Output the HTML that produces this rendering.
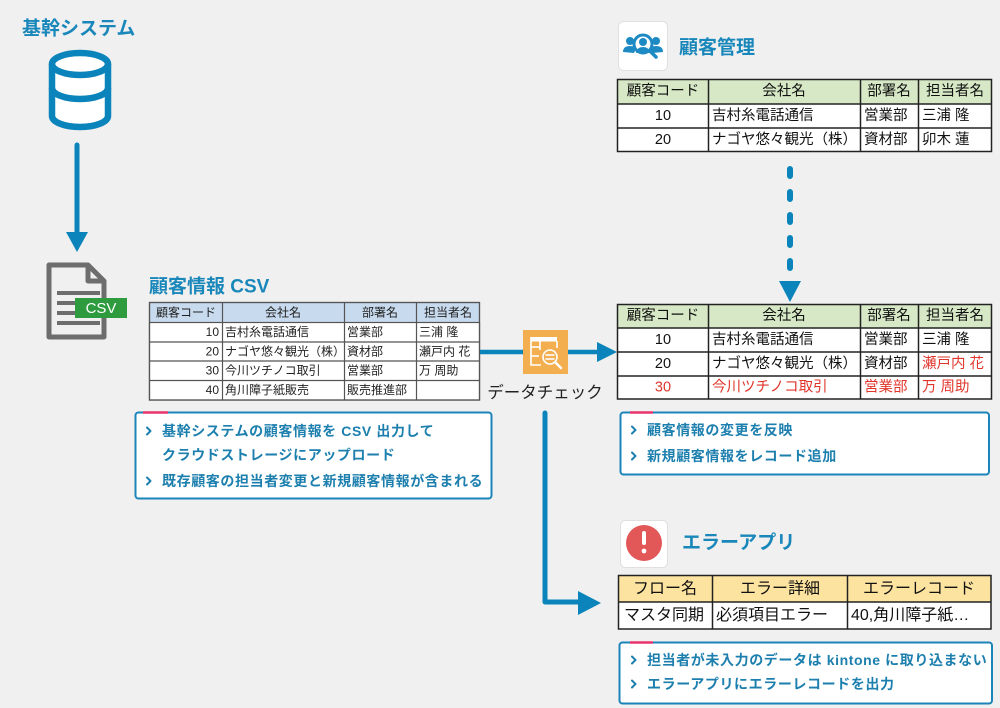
<!DOCTYPE html>
<html><head><meta charset="utf-8"><style>
html,body{margin:0;padding:0;background:#f0f0f0;}
svg{display:block;font-family:"Liberation Sans","Noto Sans CJK JP",sans-serif;}
.t{font-weight:bold;fill:#1a87ba;font-size:19px;}
.n{font-weight:bold;fill:#1c7fae;font-size:14px;letter-spacing:0.6px;}
.c{fill:none;stroke:#1c7fae;stroke-width:2;stroke-linecap:round;stroke-linejoin:round;}
.s{font-size:12px;fill:#222;}
.m{font-size:14.5px;fill:#111;}
.e{font-size:16px;fill:#111;}
.r{fill:#e0352b;}
</style></head><body>
<svg width="1000" height="708" viewBox="0 0 1000 708" xmlns="http://www.w3.org/2000/svg">
<rect width="1000" height="708" fill="#f0f0f0"/>

<!-- 基幹システム -->
<text class="t" x="22" y="29" dominant-baseline="central">基幹システム</text>
<g fill="#fff" stroke="#0a84bb" stroke-width="6.5">
  <path d="M52,64 V116 A28,11 0 0 0 108,116 V64"/>
  <ellipse cx="80" cy="64" rx="28" ry="11"/>
  <path d="M52,88 A28,11 0 0 0 108,88" fill="none"/>
</g>
<line x1="77" y1="145" x2="77" y2="236" stroke="#0a84bb" stroke-width="5" stroke-linecap="round"/>
<polygon points="66,232 88,232 77,252" fill="#0a84bb"/>

<!-- file icon -->
<g fill="none" stroke="#6d6d6d" stroke-width="5" stroke-linejoin="round">
  <path d="M49,265 H88 L104,281 V337 H49 Z" fill="#f0f0f0"/>
  <path d="M88,265 V281 H104"/>
</g>
<g stroke="#6d6d6d" stroke-width="4">
  <line x1="57" y1="293" x2="100" y2="293"/>
  <line x1="57" y1="303" x2="76" y2="303"/>
  <line x1="57" y1="313" x2="76" y2="313"/>
  <line x1="57" y1="323" x2="100" y2="323"/>
</g>
<rect x="75" y="298" width="52" height="20" fill="#2e9b3f"/>
<text x="101" y="308.5" font-size="15" fill="#fff" text-anchor="middle" dominant-baseline="central">CSV</text>

<!-- 顧客情報 CSV -->
<text class="t" x="149" y="287" dominant-baseline="central">顧客情報 CSV</text>
<rect x="149.5" y="302.5" width="330" height="20" fill="#c8daee"/>
<rect x="149.5" y="302.5" width="330" height="97.5" fill="none" stroke="#555" stroke-width="1.2"/>
<rect x="149.5" y="322.5" width="330" height="77.5" fill="#fff" stroke="#555" stroke-width="1.2"/>
<g stroke="#555" stroke-width="1.2">
  <line x1="222.5" y1="302.5" x2="222.5" y2="400"/>
  <line x1="344.5" y1="302.5" x2="344.5" y2="400"/>
  <line x1="416.5" y1="302.5" x2="416.5" y2="400"/>
  <line x1="149.5" y1="342" x2="479.5" y2="342"/>
  <line x1="149.5" y1="361" x2="479.5" y2="361"/>
  <line x1="149.5" y1="380.5" x2="479.5" y2="380.5"/>
</g>
<rect x="149.5" y="302.5" width="330" height="97.5" fill="none" stroke="#555" stroke-width="1.2"/>
<g class="s" dominant-baseline="central">
  <text x="186" y="312.5" text-anchor="middle">顧客コード</text>
  <text x="283" y="312.5" text-anchor="middle">会社名</text>
  <text x="380" y="312.5" text-anchor="middle">部署名</text>
  <text x="448" y="312.5" text-anchor="middle">担当者名</text>
  <text x="219" y="332" text-anchor="end">10</text>
  <text x="225" y="332">吉村糸電話通信</text>
  <text x="347" y="332">営業部</text>
  <text x="419" y="332">三浦 隆</text>
  <text x="219" y="351.5" text-anchor="end">20</text>
  <text x="225" y="351.5">ナゴヤ悠々観光（株）</text>
  <text x="347" y="351.5">資材部</text>
  <text x="419" y="351.5">瀬戸内 花</text>
  <text x="219" y="370.5" text-anchor="end">30</text>
  <text x="225" y="370.5">今川ツチノコ取引</text>
  <text x="347" y="370.5">営業部</text>
  <text x="419" y="370.5">万 周助</text>
  <text x="219" y="390" text-anchor="end">40</text>
  <text x="225" y="390">角川障子紙販売</text>
  <text x="347" y="390">販売推進部</text>
</g>

<!-- connectors -->
<line x1="480" y1="352" x2="523" y2="352" stroke="#0a84bb" stroke-width="4.5"/>
<line x1="568" y1="352" x2="600" y2="352" stroke="#0a84bb" stroke-width="4.5"/>
<polygon points="597,342 617,352 597,362" fill="#0a84bb"/>
<rect x="523" y="330" width="45" height="44" fill="#f2ae4f"/>
<g stroke="#fff" stroke-width="1.6" fill="none">
  <rect x="531" y="337" width="26" height="4.5" fill="#fff" stroke="none"/>
  <path d="M531,337 V365 H541"/>
  <line x1="531" y1="347" x2="540" y2="347"/>
  <line x1="531" y1="356" x2="539" y2="356"/>
  <line x1="540" y1="341" x2="540" y2="350"/>
  <line x1="557" y1="341" x2="557" y2="348"/>
  <circle cx="550" cy="357" r="7"/>
  <line x1="545.5" y1="355" x2="554.5" y2="355"/>
  <line x1="545.5" y1="359" x2="554.5" y2="359"/>
  <line x1="555" y1="362" x2="561" y2="368" stroke-width="2.4" stroke-linecap="round"/>
</g>
<text x="545" y="393" font-size="16.5" fill="#222" text-anchor="middle" dominant-baseline="central">データチェック</text>
<path d="M545,413 V602 H582" fill="none" stroke="#0a84bb" stroke-width="5" stroke-linecap="round" stroke-linejoin="round"/>
<polygon points="578,591 601,603 578,615" fill="#0a84bb"/>

<!-- note 1 -->
<rect x="135.5" y="412.5" width="356" height="86" rx="3" fill="#fff" stroke="#1b84b8" stroke-width="2"/>
<line x1="143" y1="412.5" x2="168" y2="412.5" stroke="#e8336d" stroke-width="2.5"/>
<path class="c" d="M147,427.5 L150.5,431 L147,434.5"/>
<path class="c" d="M147,477.5 L150.5,481 L147,484.5"/>
<g class="n" dominant-baseline="central">
  <text x="162" y="431">基幹システムの顧客情報を CSV 出力して</text>
  <text x="162" y="455">クラウドストレージにアップロード</text>
  <text x="162" y="481">既存顧客の担当者変更と新規顧客情報が含まれる</text>
</g>

<!-- 顧客管理 -->
<rect x="618.5" y="21.5" width="49" height="49" rx="5" fill="#fff" stroke="#e0e0e0"/>
<g fill="#1d8ac4">
  <circle cx="630" cy="41" r="4"/>
  <path d="M623,52 Q623,46 630,46 Q635,46 636,49 L634,53 Z"/>
  <circle cx="656" cy="41" r="4"/>
  <path d="M663,52 Q663,46 656,46 Q651,46 650,49 L652,53 Z"/>
  <circle cx="643" cy="42" r="4"/>
  <path d="M636,53 Q637,47 643,47 Q649,47 650,53 Z"/>
</g>
<circle cx="643" cy="44" r="9" fill="none" stroke="#1d8ac4" stroke-width="3"/>
<line x1="650" y1="51" x2="656" y2="57" stroke="#1d8ac4" stroke-width="3.5" stroke-linecap="round"/>
<text class="t" x="679" y="48" font-size="19.5" dominant-baseline="central">顧客管理</text>

<!-- table 3 -->
<rect x="617.5" y="79.5" width="374" height="72" fill="#fff"/>
<rect x="617.5" y="79.5" width="374" height="24.5" fill="#d6e8c5"/>
<g stroke="#222" stroke-width="1.5" fill="none">
  <rect x="617.5" y="79.5" width="374" height="72"/>
  <line x1="617.5" y1="104" x2="991.5" y2="104"/>
  <line x1="617.5" y1="128" x2="991.5" y2="128"/>
  <line x1="708.5" y1="79.5" x2="708.5" y2="151.5"/>
  <line x1="860.5" y1="79.5" x2="860.5" y2="151.5"/>
  <line x1="918.5" y1="79.5" x2="918.5" y2="151.5"/>
</g>
<g class="m" dominant-baseline="central">
  <text x="663" y="91.5" text-anchor="middle">顧客コード</text>
  <text x="784" y="91.5" text-anchor="middle">会社名</text>
  <text x="889" y="91.5" text-anchor="middle">部署名</text>
  <text x="955" y="91.5" text-anchor="middle">担当者名</text>
  <text x="663" y="116" text-anchor="middle">10</text>
  <text x="712" y="116">吉村糸電話通信</text>
  <text x="864" y="116">営業部</text>
  <text x="922" y="116">三浦 隆</text>
  <text x="663" y="140" text-anchor="middle">20</text>
  <text x="712" y="140">ナゴヤ悠々観光（株）</text>
  <text x="864" y="140">資材部</text>
  <text x="922" y="140">卯木 蓮</text>
</g>

<!-- dashed arrow -->
<line x1="790" y1="169" x2="790" y2="270" stroke="#0a84bb" stroke-width="6" stroke-dasharray="7 16" stroke-linecap="round"/>
<polygon points="779,281 801,281 790,302" fill="#0a84bb"/>

<!-- table 4 -->
<rect x="617.5" y="304.5" width="374" height="94.5" fill="#fff"/>
<rect x="617.5" y="304.5" width="374" height="23.5" fill="#d6e8c5"/>
<g stroke="#222" stroke-width="1.5" fill="none">
  <rect x="617.5" y="304.5" width="374" height="94.5"/>
  <line x1="617.5" y1="328" x2="991.5" y2="328"/>
  <line x1="617.5" y1="352" x2="991.5" y2="352"/>
  <line x1="617.5" y1="376" x2="991.5" y2="376"/>
  <line x1="708.5" y1="304.5" x2="708.5" y2="399"/>
  <line x1="860.5" y1="304.5" x2="860.5" y2="399"/>
  <line x1="918.5" y1="304.5" x2="918.5" y2="399"/>
</g>
<g class="m" dominant-baseline="central">
  <text x="663" y="316" text-anchor="middle">顧客コード</text>
  <text x="784" y="316" text-anchor="middle">会社名</text>
  <text x="889" y="316" text-anchor="middle">部署名</text>
  <text x="955" y="316" text-anchor="middle">担当者名</text>
  <text x="663" y="340" text-anchor="middle">10</text>
  <text x="712" y="340">吉村糸電話通信</text>
  <text x="864" y="340">営業部</text>
  <text x="922" y="340">三浦 隆</text>
  <text x="663" y="364" text-anchor="middle">20</text>
  <text x="712" y="364">ナゴヤ悠々観光（株）</text>
  <text x="864" y="364">資材部</text>
  <text x="922" y="364" class="r">瀬戸内 花</text>
  <text x="663" y="387.5" text-anchor="middle" class="r">30</text>
  <text x="712" y="387.5" class="r">今川ツチノコ取引</text>
  <text x="864" y="387.5" class="r">営業部</text>
  <text x="922" y="387.5" class="r">万 周助</text>
</g>

<!-- note 2 -->
<rect x="620.5" y="412.5" width="368.5" height="62" rx="3" fill="#fff" stroke="#1b84b8" stroke-width="2"/>
<line x1="630" y1="412.5" x2="653" y2="412.5" stroke="#e8336d" stroke-width="2.5"/>
<path class="c" d="M632,426.5 L635.5,430 L632,433.5"/>
<path class="c" d="M632,452.5 L635.5,456 L632,459.5"/>
<g class="n" dominant-baseline="central">
  <text x="647" y="430">顧客情報の変更を反映</text>
  <text x="647" y="456">新規顧客情報をレコード追加</text>
</g>

<!-- エラーアプリ -->
<rect x="620.5" y="520.5" width="47" height="47" rx="5" fill="#fff" stroke="#e0e0e0"/>
<circle cx="644" cy="543" r="18" fill="#e25757"/>
<rect x="642" y="531" width="4" height="14" rx="2" fill="#fff"/>
<circle cx="644" cy="551" r="2.4" fill="#fff"/>
<text class="t" x="682" y="543" dominant-baseline="central">エラーアプリ</text>

<!-- error table -->
<rect x="618.5" y="575.5" width="372.5" height="53.5" fill="#fff"/>
<rect x="618.5" y="575.5" width="372.5" height="26.5" fill="#fde3a0"/>
<g stroke="#222" stroke-width="1.5" fill="none">
  <rect x="618.5" y="575.5" width="372.5" height="53.5"/>
  <line x1="618.5" y1="602" x2="991" y2="602"/>
  <line x1="712.5" y1="575.5" x2="712.5" y2="629"/>
  <line x1="847.5" y1="575.5" x2="847.5" y2="629"/>
</g>
<g class="e" dominant-baseline="central">
  <text x="665" y="589" text-anchor="middle">フロー名</text>
  <text x="780" y="589" text-anchor="middle">エラー詳細</text>
  <text x="919" y="589" text-anchor="middle">エラーレコード</text>
  <text x="624" y="615.5">マスタ同期</text>
  <text x="716" y="615.5">必須項目エラー</text>
  <text x="851" y="615.5">40,角川障子紙…</text>
</g>

<!-- note 3 -->
<rect x="619.5" y="642.5" width="372.5" height="61" rx="3" fill="#fff" stroke="#1b84b8" stroke-width="2"/>
<line x1="630" y1="642.5" x2="653" y2="642.5" stroke="#e8336d" stroke-width="2.5"/>
<path class="c" d="M632,656.5 L635.5,660 L632,663.5"/>
<path class="c" d="M632,680.5 L635.5,684 L632,687.5"/>
<g class="n" dominant-baseline="central">
  <text x="647" y="660">担当者が未入力のデータは kintone に取り込まない</text>
  <text x="647" y="684">エラーアプリにエラーレコードを出力</text>
</g>
</svg>
</body></html>
